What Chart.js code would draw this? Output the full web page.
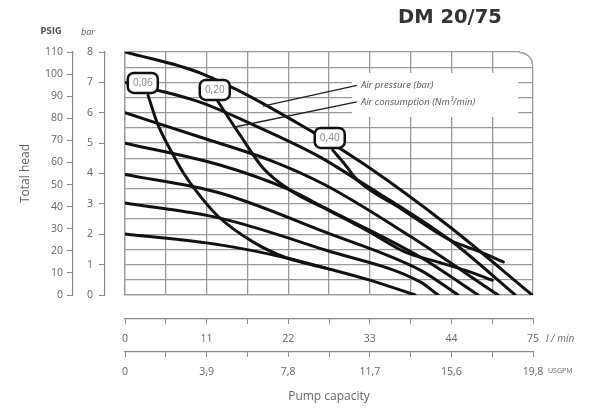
<!DOCTYPE html>
<html>
<head>
<meta charset="utf-8">
<script src="https://cdn.jsdelivr.net/npm/chart.js@4.4.1/dist/chart.umd.min.js"></script>
<style>
html, body { margin: 0; padding: 0; background: #fff; }
</style>
</head>
<body>
<canvas id="pump-chart" width="594" height="412"></canvas>
<script>
// ==================== Data ====================

const LPM_LABELS = ['0', '11', '22', '33', '44', '75'];
const GPM_LABELS = ['0', '3,9', '7,8', '11,7', '15,6', '19,8'];

// air pressure curves: flow (l/min) -> total head (bar)
const p8Flow = [0, 10.1, 25.3, 32.4, 43.8, 54.9];
const p8Head = [8.0, 7.31, 5.37, 4.28, 2.24, 0];
const p7Flow = [0, 10.1, 18.2, 26.3, 31.3, 43.8, 52.6];
const p7Head = [7.0, 6.35, 5.50, 4.54, 3.79, 1.81, 0];
const p6Flow = [0, 10.1, 19.5, 27.0, 38.4, 50.3];
const p6Head = [6.0, 5.20, 4.44, 3.62, 1.94, 0];
const p5Flow = [0, 12.8, 22.2, 27.0, 39.8, 47.6];
const p5Head = [5.0, 4.28, 3.46, 2.86, 1.25, 0];
const p4Flow = [0, 12.8, 27.0, 39.8, 44.9];
const p4Head = [3.97, 3.36, 2.07, 0.82, 0];
const p3Flow = [0, 12.8, 27.0, 39.8, 42.2];
const p3Head = [3.03, 2.53, 1.48, 0.43, 0];
const p2Flow = [0, 12.8, 21.8, 27.0, 33.0, 39.1];
const p2Head = [2.01, 1.65, 1.22, 0.89, 0.49, 0];

// air consumption curves (Nm3/min)
const c06Flow = [3.1, 4.4, 6.5, 7.8, 9.3, 12.5, 17.3, 21.8, 27.0];
const c06Head = [6.58, 5.63, 4.61, 4.05, 3.52, 2.60, 1.74, 1.22, 0.89];
const c20Flow = [12.4, 15.5, 18.6, 22.2, 27.6, 33.0, 37.7, 42.7, 46.5, 49.5];
const c20Head = [6.42, 5.27, 4.18, 3.46, 2.77, 2.07, 1.42, 1.05, 0.76, 0.49];
const c40Flow = [28.0, 29.7, 31.3, 37.1, 43.8, 47.9, 51.0];
const c40Head = [4.77, 4.28, 3.79, 2.86, 1.81, 1.42, 1.09];

const AIR_LABELS = ['0,06', '0,20', '0,40'];

// ==================== Annotation placement ====================

const AIR_LABEL_AT = [[2.4, 6.98], [12.1, 6.75], [27.6, 5.17]];
const NOTE_PANEL = [30.6, 7.31, 53.0, 5.86];
const NOTES = [
    { text: 'Air pressure (bar)', at: [31.8, 6.90], from: [18.6, 6.22] },
    { text: 'Air consumption (Nm\u00b3/min)', at: [31.8, 6.36], from: [14.8, 5.53] }
];

const GRID = '#9a9a9a';
const AXIS = '#8a8a8a';
const TEXT = '#666';
const FONT = "'Open Sans', 'DejaVu Sans', sans-serif";

function toPoints(flow, head) {
    return flow.map((f, i) => ({ x: f, y: head[i] }));
}

function curve(flow, head) {
    return {
        data: toPoints(flow, head),
        borderColor: '#111',
        borderWidth: 3,
        borderCapStyle: 'round',
        pointRadius: 0,
        fill: false,
        cubicInterpolationMode: 'monotone'
    };
}

function roundRect(ctx, x, y, w, h, r) {
    ctx.beginPath();
    ctx.moveTo(x + r, y);
    ctx.arcTo(x + w, y, x + w, y + h, r);
    ctx.arcTo(x + w, y + h, x, y + h, r);
    ctx.arcTo(x, y + h, x, y, r);
    ctx.arcTo(x, y, x + w, y, r);
    ctx.closePath();
}

const decorPlugin = {
    id: 'decor',
    beforeDatasetsDraw(chart) {
        const { ctx, chartArea: a } = chart;
        const xs = chart.scales.x, ys = chart.scales.y;
        ctx.save();
        // blank panel behind the notes
        const px1 = xs.getPixelForValue(NOTE_PANEL[0]), py1 = ys.getPixelForValue(NOTE_PANEL[1]);
        const px2 = xs.getPixelForValue(NOTE_PANEL[2]), py2 = ys.getPixelForValue(NOTE_PANEL[3]);
        ctx.fillStyle = '#fff';
        ctx.fillRect(px1, py1, px2 - px1, py2 - py1);
        // rounded top-right corner of the frame
        const R = a.right, T = a.top, r = 13;
        ctx.beginPath();
        ctx.moveTo(R - r, T - 2);
        ctx.lineTo(R + 2, T - 2);
        ctx.lineTo(R + 2, T + r);
        ctx.lineTo(R, T + r);
        ctx.arcTo(R, T, R - r, T, r);
        ctx.closePath();
        ctx.fill();
        ctx.beginPath();
        ctx.moveTo(R - r, T + 0.5);
        ctx.arcTo(R - 0.5, T + 0.5, R - 0.5, T + r, r);
        ctx.strokeStyle = GRID;
        ctx.lineWidth = 1.3;
        ctx.stroke();
        ctx.restore();
    },
    afterDatasetsDraw(chart) {
        const { ctx } = chart;
        const xs = chart.scales.x, ys = chart.scales.y;
        ctx.save();
        // leader lines + notes
        NOTES.forEach(n => {
            const tx = xs.getPixelForValue(n.at[0]), ty = ys.getPixelForValue(n.at[1]);
            ctx.beginPath();
            ctx.moveTo(xs.getPixelForValue(n.from[0]), ys.getPixelForValue(n.from[1]));
            ctx.lineTo(tx - 4, ty);
            ctx.strokeStyle = '#222';
            ctx.lineWidth = 1.4;
            ctx.stroke();
            ctx.fillStyle = '#555';
            ctx.font = `italic 9.5px ${FONT}`;
            ctx.textAlign = 'left';
            ctx.textBaseline = 'middle';
            ctx.fillText(n.text, tx, ty);
        });
        // air consumption boxes
        AIR_LABELS.forEach((lbl, i) => {
            const cx = xs.getPixelForValue(AIR_LABEL_AT[i][0]);
            const cy = ys.getPixelForValue(AIR_LABEL_AT[i][1]);
            const w = 30, h = 20;
            roundRect(ctx, cx - w / 2, cy - h / 2, w, h, 6);
            ctx.fillStyle = '#fff';
            ctx.fill();
            ctx.strokeStyle = '#111';
            ctx.lineWidth = 2.5;
            ctx.stroke();
            ctx.fillStyle = '#888';
            ctx.font = `10px ${FONT}`;
            ctx.textAlign = 'center';
            ctx.textBaseline = 'middle';
            ctx.fillText(lbl, cx, cy + 0.5);
        });
        ctx.restore();
    },
    afterDraw(chart) {
        const { ctx } = chart;
        const xl = chart.scales.xL, xg = chart.scales.xG;
        ctx.save();
        ctx.fillStyle = '#333';
        ctx.font = "bold 19.5px 'DejaVu Sans', sans-serif";
        ctx.textAlign = 'left';
        ctx.textBaseline = 'middle';
        ctx.fillText('DM 20/75', 398, 18);
        ctx.fillStyle = '#555';
        ctx.font = "bold 8px 'DejaVu Sans', sans-serif";
        ctx.textAlign = 'center';
        ctx.fillText('PSIG', 51, 32);
        ctx.font = `italic 9px ${FONT}`;
        ctx.fillText('bar', 88, 32);
        ctx.textAlign = 'left';
        ctx.fillStyle = TEXT;
        ctx.font = `italic 10px ${FONT}`;
        ctx.fillText('l / min', xl.right + 13, xl.top + 20);
        ctx.font = `7px ${FONT}`;
        ctx.fillText('USGPM', xg.right + 15, xg.top + 19);
        ctx.restore();
    }
};

function bottomAxis(labels, weight, height, extra) {
    return Object.assign({
        type: 'linear',
        position: 'bottom',
        weight,
        min: 0,
        max: 55,
        grid: { drawOnChartArea: false, drawTicks: true, tickLength: 5, color: AXIS },
        border: { display: true, color: AXIS, width: 1.2 },
        ticks: {
            stepSize: 5.5,
            autoSkip: false,
            maxRotation: 0,
            padding: 9,
            color: TEXT,
            font: { family: FONT, size: 10.5 },
            callback: (v, i) => (i % 2 ? '' : labels[i / 2])
        },
        afterFit: s => { s.height = height; }
    }, extra || {});
}

function leftAxis(max, step, weight, width, padding, extra) {
    return Object.assign({
        type: 'linear',
        position: 'left',
        weight,
        min: 0,
        max,
        grid: { drawOnChartArea: false, drawTicks: true, tickLength: 6, color: AXIS },
        border: { display: true, color: AXIS, width: 1.2 },
        ticks: { stepSize: step, padding, color: TEXT, font: { family: FONT, size: 10.5 } },
        afterFit: s => { s.width = width; }
    }, extra || {});
}

new Chart(document.getElementById('pump-chart'), {
    type: 'line',
    data: {
        datasets: [
            curve(p8Flow, p8Head), curve(p7Flow, p7Head), curve(p6Flow, p6Head),
            curve(p5Flow, p5Head), curve(p4Flow, p4Head), curve(p3Flow, p3Head),
            curve(p2Flow, p2Head),
            curve(c06Flow, c06Head), curve(c20Flow, c20Head), curve(c40Flow, c40Head)
        ]
    },
    options: {
        responsive: false,
        animation: false,
        layout: { padding: { top: 52, right: 61, bottom: 5, left: 8 } },
        plugins: { legend: { display: false }, tooltip: { enabled: false } },
        scales: {
            x: {
                type: 'linear', position: 'bottom', weight: 0, min: 0, max: 55,
                grid: { color: GRID, lineWidth: 1.3, drawTicks: false },
                border: { display: true, color: GRID, width: 1.3 },
                ticks: { stepSize: 5.5, display: false },
                afterFit: s => { s.height = 24; }
            },
            xL: bottomAxis(LPM_LABELS, 1, 33),
            xG: bottomAxis(GPM_LABELS, 2, 55, {
                title: { display: true, text: 'Pump capacity', color: TEXT,
                         font: { family: FONT, size: 12 }, padding: { top: 0, bottom: 3 } }
            }),
            y: {
                type: 'linear', position: 'left', weight: 0, min: 0, max: 8,
                grid: { color: GRID, lineWidth: 1.3, drawTicks: false },
                border: { display: true, color: GRID, width: 1.3 },
                ticks: { stepSize: 0.5, display: false },
                afterFit: s => { s.width = 20; }
            },
            yBar: leftAxis(8, 1, 1, 32, 6),
            yPsi: leftAxis(110, 10, 2, 65, 4, {
                title: { display: true, text: 'Total head', color: TEXT,
                         font: { family: FONT, size: 12 }, padding: { top: 10, bottom: 0 } }
            })
        }
    },
    plugins: [decorPlugin]
});
</script>
</body>
</html>
